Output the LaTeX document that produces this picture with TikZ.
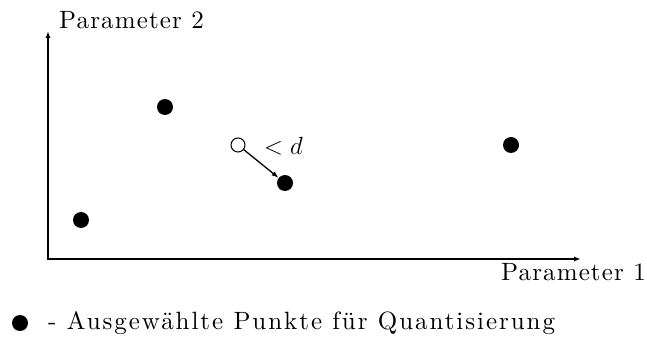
\documentclass[tikz,border=0pt]{standalone}
\usepackage{fontspec}
\newfontfamily\axisfont{lmroman10-regular.otf}[LetterSpace=4.5]
\newfontfamily\legfont{lmroman10-regular.otf}[LetterSpace=7.8]
\usetikzlibrary{arrows.meta}
\begin{document}
\begin{tikzpicture}[x=1pt,y=-1pt,
  lbl/.style={font=\axisfont\fontsize{25}{30}\selectfont, inner sep=0pt},
  leglbl/.style={font=\legfont\fontsize{25}{30}\selectfont, inner sep=0pt},
  sel/.style={circle, fill=black, minimum size=16pt, inner sep=0pt},
  opn/.style={circle, draw=black, line width=1pt, fill=white, minimum size=14pt, inner sep=0pt},
  axis/.style={line width=2pt, -{Latex[length=7pt,width=5pt]}}]
\useasboundingbox (0,0) rectangle (647,339);
\coordinate (o) at (48,259);
\coordinate (o2) at (47,259);
\coordinate (ytop) at (48,31);
\coordinate (xend) at (581,259);
\draw[axis] (o) -- (ytop);
\draw[axis] (o2) -- (xend);
\node[lbl, anchor=west] (p2) at (59,20) {Parameter 2};
\node[lbl, anchor=east] (p1) at (646,272) {Parameter 1};
\node[sel] (a) at (81,220) {};
\node[sel] (b) at (165,107) {};
\node[sel] (c) at (285,183) {};
\node[sel] (e) at (511,145) {};
\node[opn] (q) at (238,145) {};
\node[lbl, anchor=west] (d) at (264,146) {$<d$};
\draw[line width=1.3pt, -{Latex[length=7pt,width=5pt]}] (q) -- (c);
\node[sel] (leg) at (20,323) {};
\node[leglbl, anchor=west] (legt) at (48,323) {- Ausgew\"ahlte Punkte f\"ur Quantisierung};
\end{tikzpicture}
\end{document}
